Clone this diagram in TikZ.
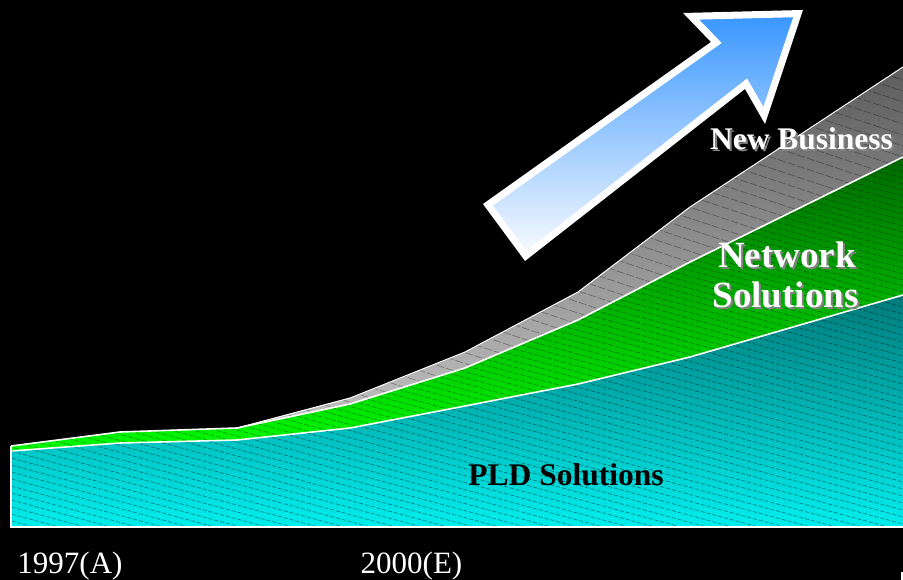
\documentclass[tikz,border=0pt]{standalone}
\usepackage{fontspec}
\setmainfont{Liberation Serif}
\definecolor{tealdark}{RGB}{0,122,122}
\definecolor{cyanbright}{RGB}{0,238,238}
\definecolor{greendark}{RGB}{0,105,0}
\definecolor{greenbright}{RGB}{0,250,0}
\definecolor{graydark}{RGB}{92,92,92}
\definecolor{graylight}{RGB}{200,200,200}
\definecolor{arrowblue}{RGB}{56,150,255}
\definecolor{arrowmid}{RGB}{150,192,255}
\definecolor{arrowlight}{RGB}{250,252,255}
\definecolor{shadowgray}{RGB}{130,130,130}
\tikzset{
  edgeline/.style={draw=white, line width=1.6pt},
  hatchc/.style={draw=black, draw opacity=0.42, line width=0.7pt, dash pattern=on 4pt off 2pt},
  hatchg/.style={draw=black, draw opacity=0.36, line width=0.6pt, dash pattern=on 5pt off 2pt},
  hatchn/.style={draw=black, draw opacity=0.32, line width=0.7pt, dash pattern=on 8pt off 2pt},
  bigtext/.style={inner sep=0pt, anchor=base, font=\bfseries\fontsize{37}{40}\selectfont},
  midtext/.style={inner sep=0pt, anchor=base, font=\bfseries\fontsize{31.5}{36}\selectfont},
  yeartext/.style={inner sep=0pt, anchor=base, text=white, font=\fontsize{31}{36}\selectfont},
}
\def\cyanarea{(b0) -- (c0) -- (c1) -- (c2) -- (c3) -- (c4) -- (c5) -- (c6) -- (c7) -- (b1) -- cycle}
\def\greenarea{(c0) -- (c1) -- (c2) -- (c3) -- (c4) -- (c5) -- (c6) -- (c7) -- (g7) -- (g6) -- (g5) -- (g4) -- (g3) -- (g2) -- (g1) -- (g0) -- cycle}
\def\grayarea{(g0) -- (g1) -- (g2) -- (g3) -- (g4) -- (g5) -- (g6) -- (g7) -- (n7) -- (n6) -- (n5) -- (n4) -- (n3) -- (n2) -- (n1) -- (n0) -- cycle}
\begin{document}
\begin{tikzpicture}[x=1pt, y=-1pt, line join=miter]
\fill[black] (0,0) rectangle (903,580);
\useasboundingbox (0,0) rectangle (903,580);
% base
\coordinate (b0) at (11,527);
\coordinate (b1) at (903,527);
% PLD top
\coordinate (c0) at (11,451);
\coordinate (c1) at (120,443);
\coordinate (c2) at (237,440);
\coordinate (c3) at (350,428);
\coordinate (c4) at (465,406);
\coordinate (c5) at (578,384);
\coordinate (c6) at (690,357);
\coordinate (c7) at (903,295);
% Network top
\coordinate (g0) at (11,446);
\coordinate (g1) at (120,432);
\coordinate (g2) at (237,428);
\coordinate (g3) at (350,404);
\coordinate (g4) at (465,368);
\coordinate (g5) at (578,320);
\coordinate (g6) at (690,262);
\coordinate (g7) at (903,157);
% New business top
\coordinate (n0) at (11,446);
\coordinate (n1) at (120,432);
\coordinate (n2) at (237,428);
\coordinate (n3) at (350,398);
\coordinate (n4) at (465,352);
\coordinate (n5) at (578,292);
\coordinate (n6) at (690,207);
\coordinate (n7) at (903,67);
% gray band
\shade[top color=graydark, bottom color=graylight] \grayarea;
\begin{scope}
\clip \grayarea;
\foreach \k in {-40,...,60} \draw[hatchn] (0,\k*11) -- (903,\k*11+300);
\end{scope}
% green band
\shade[top color=greendark, bottom color=greenbright] \greenarea;
\begin{scope}
\clip \greenarea;
\foreach \k in {-60,...,90} \draw[hatchg] (0,\k*6) -- (903,\k*6+244);
\end{scope}
% cyan area
\shade[top color=tealdark, bottom color=cyanbright] \cyanarea;
\begin{scope}
\clip \cyanarea;
\foreach \k in {-40,...,80} \draw[hatchc] (0,\k*7) -- (903,\k*7+244);
\end{scope}
% edges
\draw[draw=white, line width=1pt] (n2) -- (n3) -- (n4) -- (n5) -- (n6) -- (n7);
\draw[edgeline] (g0) -- (g1) -- (g2) -- (g3) -- (g4) -- (g5) -- (g6) -- (g7);
\draw[edgeline] (c0) -- (c1) -- (c2) -- (c3) -- (c4) -- (c5) -- (c6) -- (c7);
\draw[edgeline] (b1) -- (b0) -- (g0);
% arrow
\coordinate (a1) at (487.9,204.8);
\coordinate (a2) at (716.3,42.5);
\coordinate (a3) at (691.1,16.3);
\coordinate (a4) at (798.1,13.6);
\coordinate (a5) at (764.2,115.5);
\coordinate (a6) at (746.0,83.7);
\coordinate (a7) at (525.7,256.0);
\shade[top color=arrowblue, middle color=arrowmid, bottom color=arrowlight]
  (a1) -- (a2) -- (a3) -- (a4) -- (a5) -- (a6) -- (a7) -- cycle;
\draw[white, line width=7pt] (a1) -- (a2) -- (a3) -- (a4) -- (a5) -- (a6) -- (a7) -- cycle;
% texts
\node[midtext, text=shadowgray] (nbs) at (803.5,152) {New Business};
\node[midtext, text=white] (nb) at (801.5,150) {New Business};
\node[bigtext, text=shadowgray] (nws) at (789,270) {Network};
\node[bigtext, text=white] (nw) at (787,268) {Network};
\node[bigtext, text=shadowgray] (nss) at (787.5,310) {Solutions};
\node[bigtext, text=white] (ns) at (785.5,308) {Solutions};
\node[midtext, text=black] (pld) at (566,485) {PLD Solutions};
\node[yeartext] (y97) at (70,573) {1997(A)};
\node[yeartext] (y00) at (411.5,573) {2000(E)};
\fill[white] (901,572) rectangle (903,580);
\end{tikzpicture}
\end{document}
